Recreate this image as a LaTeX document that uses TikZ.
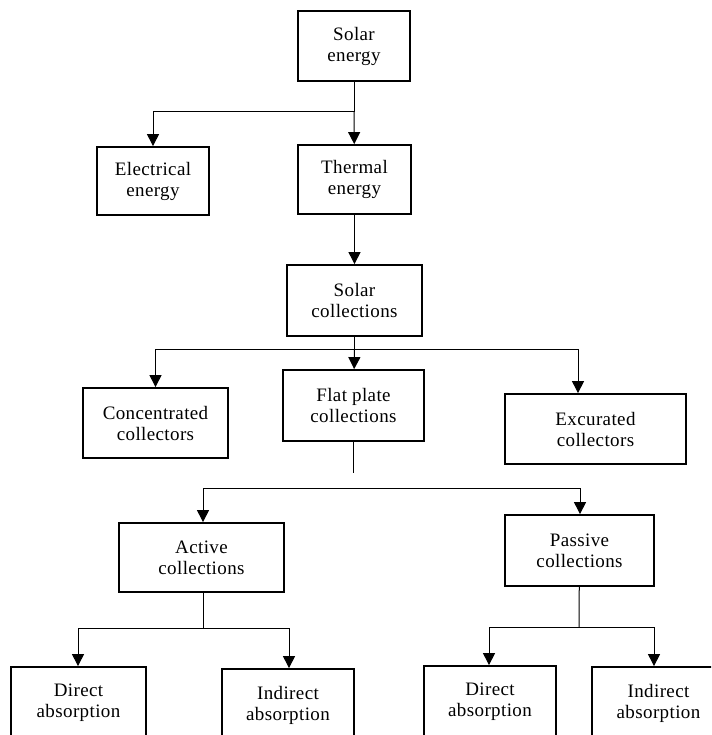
\documentclass[tikz,border=0pt]{standalone}
\usepackage{fontspec}
\setmainfont[LetterSpace=2]{Liberation Serif}
\usetikzlibrary{arrows.meta}
\begin{document}
\begin{tikzpicture}[x=1pt, y=-1pt, >={Triangle[width=12pt, length=12pt]},
  box/.style={draw, line width=1.8pt, align=center, inner sep=0pt,
    font=\fontsize{19}{21}\selectfont},
  link/.style={line width=1pt}]

  % page frame: the lowest row of boxes runs off its edges
  \useasboundingbox (0,0) rectangle (711,735);
  \clip (0,0) rectangle (711,735);

  % source and the two forms of energy
  \node[box, minimum width=112pt, minimum height=70pt] (solar) at (354,46) {Solar\\energy};
  \node[box, minimum width=112pt, minimum height=68pt] (elec) at (153,181) {Electrical\\energy};
  \node[box, minimum width=113pt, minimum height=69pt] (thermal) at (354.5,179.5) {Thermal\\energy};

  \coordinate (split1) at (354,112);
  \draw[link] (solar) -- (split1);
  \draw[link, ->] (split1) -| (elec);
  \draw[link, ->] (split1) -- (thermal);

  % collectors
  \node[box, minimum width=135pt, minimum height=71pt] (solcoll) at (354.5,300.5) {Solar\\collections};
  \draw[link, ->] (thermal) -- (solcoll);

  \node[box, minimum width=145pt, minimum height=70pt] (conc) at (155.5,423) {Concentrated\\collectors};
  \node[box, minimum width=141pt, minimum height=71pt] (flat) at (353.5,405.5) {Flat plate\\collections};
  \node[box, minimum width=181pt, minimum height=70pt] (excur) at (595.5,429) {Excurated\\collectors};

  \coordinate (split2) at (354.5,349);
  \coordinate (split2r) at (578,349);
  \draw[link] (solcoll) -- (split2);
  \draw[link, ->] (split2) -| (conc);
  \draw[link, ->] (split2) -- (flat);
  \draw[link, ->] (split2) -- (split2r) -- (split2r |- excur.north);

  % flat plate branch, the stub stops short of the bar
  \coordinate (stub) at (353.5,473);
  \draw[link] (flat) -- (stub);

  \node[box, minimum width=165pt, minimum height=69pt] (active) at (201.5,557.5) {Active\\collections};
  \node[box, minimum width=149pt, minimum height=71pt] (passive) at (579.5,550.5) {Passive\\collections};

  \coordinate (bar3l) at (203,488);
  \coordinate (bar3r) at (580,488);
  \draw[link, ->] (bar3r) -- (bar3l) -- (bar3l |- active.north);
  \draw[link, ->] (bar3r) -- (bar3r |- passive.north);

  % absorption boxes
  \node[box, minimum width=135pt, minimum height=72pt] (adirect) at (78.5,703) {Direct\\absorption};
  \node[box, minimum width=132pt, minimum height=72pt] (aindirect) at (288,705) {Indirect\\absorption};
  \node[box, minimum width=132pt, minimum height=72pt] (pdirect) at (490,702) {Direct\\absorption};
  \node[box, minimum width=133pt, minimum height=72pt] (pindirect) at (658.5,703) {Indirect\\absorption};

  \coordinate (bar4a) at (203,628);
  \coordinate (bar4l) at (78,628);
  \coordinate (bar4r) at (289,628);
  \draw[link] (active.south -| bar4a) -- (bar4a);
  \draw[link, ->] (bar4r) -- (bar4l) -- (bar4l |- adirect.north);
  \draw[link, ->] (bar4r) -- (bar4r |- aindirect.north);

  \coordinate (bar5a) at (579,627);
  \coordinate (bar5l) at (489,627);
  \coordinate (bar5r) at (654,627);
  \draw[link] (passive) -- (bar5a);
  \draw[link, ->] (bar5r) -- (bar5l) -- (bar5l |- pdirect.north);
  \draw[link, ->] (bar5r) -- (bar5r |- pindirect.north);

\end{tikzpicture}
\end{document}
